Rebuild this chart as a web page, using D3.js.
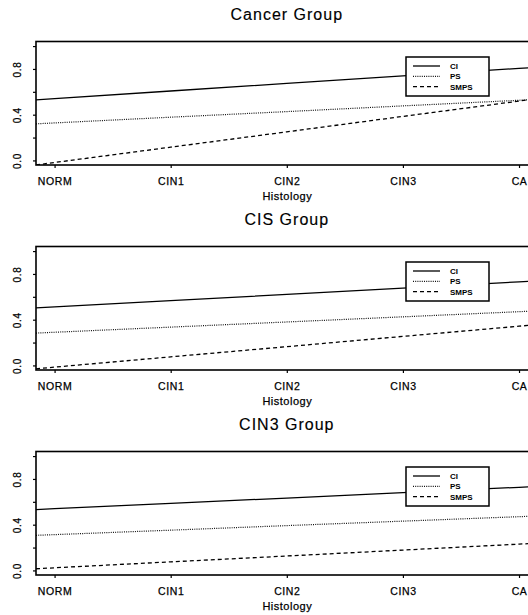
<!DOCTYPE html>
<html>
<head>
<meta charset="utf-8">
<script src="https://cdn.jsdelivr.net/npm/d3@7"></script>
<style>
  html, body { margin: 0; padding: 0; background: #fff; }
  svg { display: block; font-family: "Liberation Sans", Arial, Helvetica, sans-serif; }
</style>
</head>
<body>
<svg id="chart" width="528" height="615"></svg>
<script>
// Histology categories along the x axis
const categories = ["NORM", "CIN1", "CIN2", "CIN3", "CA"];
const groupTitles = ["Cancer Group", "CIS Group", "CIN3 Group"];
const seriesNames = ["CI", "PS", "SMPS"];

// Estimated proportions per histology category
const cancerCI   = [0.54, 0.607, 0.673, 0.739, 0.805];
const cancerPS   = [0.328, 0.378, 0.427, 0.477, 0.526];
const cancerSMPS = [-0.018, 0.116, 0.25, 0.385, 0.519];

const cisCI   = [0.512, 0.567, 0.621, 0.676, 0.731];
const cisPS   = [0.29, 0.335, 0.38, 0.425, 0.47];
const cisSMPS = [-0.015, 0.075, 0.164, 0.254, 0.343];

const cin3CI   = [0.54, 0.587, 0.633, 0.68, 0.727];
const cin3PS   = [0.313, 0.352, 0.392, 0.431, 0.47];
const cin3SMPS = [0.023, 0.075, 0.126, 0.178, 0.23];

const yTicks = [0, 0.2, 0.4, 0.6, 0.8, 1.0];
const yTickLabels = ["0.0", "", "0.4", "", "0.8", ""];

const panels = [
  { title: groupTitles[0], series: [cancerCI, cancerPS, cancerSMPS] },
  { title: groupTitles[1], series: [cisCI, cisPS, cisSMPS] },
  { title: groupTitles[2], series: [cin3CI, cin3PS, cin3SMPS] }
];

const lineStyles = [
  { width: 1.3, dash: null, color: "#000" },
  { width: 1.2, dash: "1,1.2", color: "#111" },
  { width: 1.3, dash: "4,3", color: "#000" }
];

const svg = d3.select("#chart");

const plotLeft = 36, plotRight = 537.6;
const panelStep = 205;
const plotTop0 = 41.5, plotHeight = 123.5;

const xDomain = [-0.16, 4.16];
const x = d3.scaleLinear().domain(xDomain).range([plotLeft, plotRight]);

panels.forEach((panel, p) => {
  const top = plotTop0 + p * panelStep;
  const bottom = top + plotHeight;
  const y = d3.scaleLinear().domain([-0.04, 1.04]).range([bottom, top]);
  const g = svg.append("g");

  // Title
  g.append("text")
    .attr("x", (plotLeft + plotRight) / 2)
    .attr("y", top - 22)
    .attr("text-anchor", "middle")
    .attr("font-size", 16)
    .attr("letter-spacing", 1)
    .attr("fill", "#000")
    .attr("stroke", "#000").attr("stroke-width", 0.15)
    .text(panel.title);

  // Clip to plot region
  const clipId = "clip" + p;
  g.append("clipPath").attr("id", clipId)
    .append("rect")
    .attr("x", plotLeft).attr("y", top)
    .attr("width", plotRight - plotLeft).attr("height", plotHeight);

  // Series lines, extended linearly to the plot edges
  const line = d3.line().x(d => x(d[0])).y(d => y(d[1]));
  panel.series.forEach((vals, s) => {
    const n = vals.length;
    const pts = vals.map((v, i) => [i, v]);
    const lead = vals[0] - (vals[1] - vals[0]) * (0 - xDomain[0]);
    const tail = vals[n - 1] + (vals[n - 1] - vals[n - 2]) * (xDomain[1] - (n - 1));
    pts.unshift([xDomain[0], lead]);
    pts.push([xDomain[1], tail]);
    const st = lineStyles[s];
    g.append("path")
      .attr("clip-path", `url(#${clipId})`)
      .attr("d", line(pts))
      .attr("fill", "none")
      .attr("stroke", st.color)
      .attr("stroke-width", st.width)
      .attr("stroke-dasharray", st.dash);
  });

  // Plot frame
  g.append("rect")
    .attr("x", plotLeft).attr("y", top)
    .attr("width", plotRight - plotLeft).attr("height", plotHeight)
    .attr("fill", "none").attr("stroke", "#000").attr("stroke-width", 1.6);

  // X axis
  const xAxis = d3.axisBottom(x)
    .tickValues(d3.range(categories.length))
    .tickFormat(i => categories[i])
    .tickSize(3).tickPadding(10);
  const gx = g.append("g").attr("transform", `translate(0,${bottom})`).call(xAxis);
  gx.select(".domain").remove();
  gx.selectAll(".tick line").attr("stroke", "#000").attr("stroke-width", 1.2);
  gx.selectAll(".tick text")
    .attr("font-size", 10.5).attr("letter-spacing", 0.6)
    .attr("font-family", "'Liberation Sans', Arial, sans-serif")
    .attr("fill", "#000")
    .attr("stroke", "#000").attr("stroke-width", 0.25);

  // X axis title
  g.append("text")
    .attr("x", (plotLeft + plotRight) / 2 + 0.5)
    .attr("y", bottom + 35)
    .attr("text-anchor", "middle")
    .attr("font-size", 11)
    .attr("letter-spacing", 0.5)
    .attr("fill", "#000")
    .attr("stroke", "#000").attr("stroke-width", 0.25)
    .text("Histology");

  // Y axis
  const yAxis = d3.axisLeft(y)
    .tickValues(yTicks)
    .tickFormat((d, i) => yTickLabels[i])
    .tickSize(3).tickPadding(0);
  const gy = g.append("g").attr("transform", `translate(${plotLeft},0)`).call(yAxis);
  gy.select(".domain").remove();
  gy.selectAll(".tick line").attr("stroke", "#000").attr("stroke-width", 1.2);
  gy.selectAll(".tick text")
    .attr("x", null).attr("dy", null)
    .attr("transform", "translate(-15,0) rotate(-90)")
    .attr("text-anchor", "middle")
    .attr("font-size", 10).attr("letter-spacing", 0.8)
    .attr("font-family", "'Liberation Sans', Arial, sans-serif")
    .attr("fill", "#000")
    .attr("stroke", "#000").attr("stroke-width", 0.25);

  // Legend
  const lg = g.append("g").attr("transform", `translate(406,${top + 15.5})`);
  lg.append("rect")
    .attr("width", 83).attr("height", 39)
    .attr("fill", "#fff").attr("stroke", "#000").attr("stroke-width", 1.5);
  seriesNames.forEach((name, s) => {
    const yy = 9 + s * 10.3;
    const st = lineStyles[s];
    lg.append("line")
      .attr("x1", 7).attr("x2", 34).attr("y1", yy).attr("y2", yy)
      .attr("stroke", st.color).attr("stroke-width", st.width)
      .attr("stroke-dasharray", st.dash);
    lg.append("text")
      .attr("x", 44).attr("y", yy + 3)
      .attr("font-size", 8).attr("font-weight", "bold")
      .attr("fill", "#000")
      .text(name);
  });
});
</script>
</body>
</html>
